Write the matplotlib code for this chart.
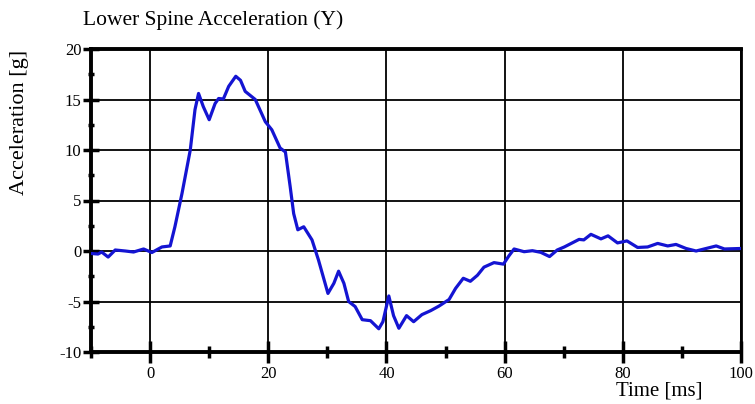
import numpy as np
import matplotlib
matplotlib.use("Agg")
import matplotlib.pyplot as plt
from matplotlib.ticker import MultipleLocator

plt.rcParams['font.family'] = ['Liberation Serif', 'DejaVu Serif']
plt.rcParams['axes.unicode_minus'] = False

# time [ms] and acceleration [g]
time_ms = [-9.9, -8.8, -8.2, -7.1, -5.9, -4.2, -2.8, -1.1, 0.3, 2.0, 3.4, 4.2, 5.4,
           6.8, 7.6, 8.2, 9.0, 10.0, 11.0, 11.6, 12.4, 13.3, 14.5, 15.3, 16.1, 17.8,
           19.5, 20.6, 22.0, 22.9, 23.7, 24.3, 25.0, 26.0, 27.4, 28.5, 30.1, 31.1,
           31.9, 32.8, 33.6, 34.7, 35.9, 37.3, 38.7, 39.4, 40.4, 41.2, 42.1, 43.4,
           44.6, 46.0, 47.5, 48.9, 50.6, 51.7, 53.0, 54.2, 55.4, 56.5, 58.2, 59.8,
           60.7, 61.6, 63.3, 64.7, 66.1, 67.6, 68.9, 70.1, 72.6, 73.4, 74.6, 76.3,
           77.5, 79.1, 80.7, 82.5, 84.2, 85.9, 87.6, 89.0, 90.7, 92.4, 94.1, 95.8,
           97.2, 100.0]
accel_g = [-0.25, -0.3, -0.1, -0.6, 0.1, 0.0, -0.1, 0.2, -0.15, 0.4, 0.5, 2.4, 5.7,
           10.0, 14.0, 15.6, 14.3, 13.0, 14.6, 15.1, 15.05, 16.3, 17.3, 16.9, 15.8, 15.0,
           12.8, 12.0, 10.2, 9.8, 6.4, 3.7, 2.1, 2.4, 1.1, -0.9, -4.2, -3.2,
           -2.0, -3.2, -5.0, -5.5, -6.8, -6.9, -7.7, -7.0, -4.45, -6.4, -7.65, -6.4,
           -7.0, -6.3, -5.9, -5.45, -4.8, -3.7, -2.7, -3.0, -2.4, -1.6, -1.15, -1.3,
           -0.5, 0.2, -0.07, 0.03, -0.13, -0.55, 0.1, 0.4, 1.15, 1.1, 1.65, 1.2,
           1.5, 0.8, 1.0, 0.35, 0.4, 0.75, 0.5, 0.65, 0.25, 0.0, 0.25, 0.5,
           0.2, 0.25]

fig = plt.figure(figsize=(7.55, 4.04), dpi=100)
ax = fig.add_axes([91/755, 1 - 352/404, 650/755, 303/404])

ax.plot(time_ms, accel_g, color="#1414d2", lw=2.3, zorder=3,
        solid_joinstyle="round", solid_capstyle="round")

ax.set_xlim(-10, 100)
ax.set_ylim(-10, 20)
ax.xaxis.set_major_locator(MultipleLocator(20))
ax.xaxis.set_minor_locator(MultipleLocator(10))
ax.yaxis.set_major_locator(MultipleLocator(5))
ax.yaxis.set_minor_locator(MultipleLocator(2.5))

ax.grid(True, which="major", color="black", lw=1.3, zorder=1)

for s in ["left", "bottom", "top"]:
    ax.spines[s].set_linewidth(2.8)
ax.spines["right"].set_linewidth(2.0)

ax.tick_params(axis="x", which="major", direction="inout", length=16, width=2.5,
               labelsize=12, pad=2)
ax.tick_params(axis="x", which="minor", direction="inout", length=9, width=2.5)
ax.tick_params(axis="y", which="major", direction="inout", length=12, width=2.5,
               labelsize=12, pad=1)
ax.tick_params(axis="y", which="minor", direction="inout", length=5, width=2.5)

fig.text(83/755, 1 - 20/404, "Lower Spine Acceleration (Y)", fontsize=15.5,
         ha="left", va="center")
fig.text(20/755, 1 - 122/404, "Acceleration [g]", fontsize=16, rotation=90,
         ha="center", va="center")
fig.text(659/755, 1 - 391/404, "Time [ms]", fontsize=15, ha="center", va="center")

fig.savefig("out.png", dpi=100)
